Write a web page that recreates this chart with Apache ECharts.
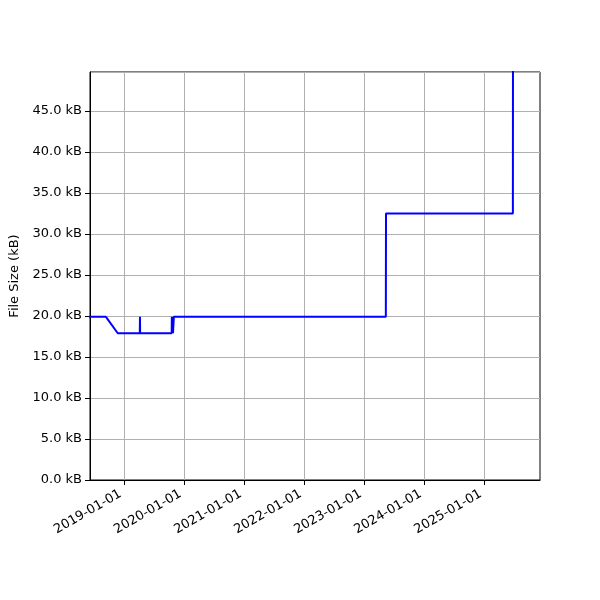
<!DOCTYPE html>
<html lang="en">
<head>
    <meta charset="UTF-8">
    <title>File Size</title>
    <script src="https://cdn.jsdelivr.net/npm/echarts@6/dist/echarts.min.js"></script>
    <style>
        body { margin: 0; padding: 0; background: #fff; }
        #main { width: 600px; height: 600px; }
    </style>
</head>
<body>
    <div id="main"></div>
    <script>
        // commit dates and file sizes (kB)
        const dates = [
            '2018-06-01', '2018-09-13', '2018-11-24', '2019-04-07', '2019-04-08',
            '2019-04-09', '2019-10-18', '2019-10-19', '2019-10-26', '2019-10-31',
            '2023-05-13', '2023-05-14', '2025-06-24', '2025-06-25'
        ];
        const sizes = [
            19.9, 19.9, 17.9, 17.9, 19.9,
            17.9, 17.9, 19.9, 17.9, 19.9,
            19.9, 32.5, 32.5, 65.0
        ];
        const tickDates = ['2019-01-01', '2020-01-01', '2021-01-01', '2022-01-01',
                           '2023-01-01', '2024-01-01', '2025-01-01'];
        const xMin = '2018-06-08';
        const xMax = '2025-12-06';
        const yMax = 49.76;

        const ts = s => new Date(s + 'T00:00:00Z').getTime();
        const tickTs = tickDates.map(ts);
        const font = 'DejaVu Sans';

        const chart = echarts.init(document.getElementById('main'));
        chart.setOption({
            animation: false,
            grid: {
                left: 90, right: 60, top: 72, bottom: 120,
                show: true, borderColor: '#000', borderWidth: 1, backgroundColor: 'transparent'
            },
            xAxis: {
                type: 'value',
                min: ts(xMin),
                max: ts(xMax),
                axisLine: { show: true, lineStyle: { color: '#000', width: 1 } },
                axisTick: { show: true, customValues: tickTs, length: 5, lineStyle: { color: '#000' } },
                axisLabel: {
                    customValues: tickTs,
                    rotate: 30,
                    color: '#000',
                    fontFamily: font,
                    fontSize: 13,
                    margin: 11,
                    padding: [0, 4, 0, 0],
                    formatter: v => new Date(v).toISOString().slice(0, 10)
                },
                splitLine: { show: true, lineStyle: { color: '#b0b0b0', width: 1 } }
            },
            yAxis: {
                type: 'value',
                min: 0,
                max: yMax,
                interval: 5,
                name: 'File Size (kB)',
                nameLocation: 'middle',
                nameGap: 66,
                nameTextStyle: { color: '#000', fontFamily: font, fontSize: 13 },
                axisLine: { show: true, lineStyle: { color: '#000', width: 1 } },
                axisTick: { show: true, length: 5, lineStyle: { color: '#000' } },
                axisLabel: {
                    color: '#000',
                    fontFamily: font,
                    fontSize: 13,
                    margin: 8,
                    showMaxLabel: false,
                    formatter: v => v.toFixed(1) + ' kB'
                },
                splitLine: { show: true, lineStyle: { color: '#b0b0b0', width: 1 } }
            },
            series: [{
                type: 'line',
                data: dates.map((d, i) => [ts(d), sizes[i]]),
                showSymbol: false,
                clip: true,
                lineStyle: { color: '#0000ff', width: 2 }
            }]
        });
    </script>
</body>
</html>
